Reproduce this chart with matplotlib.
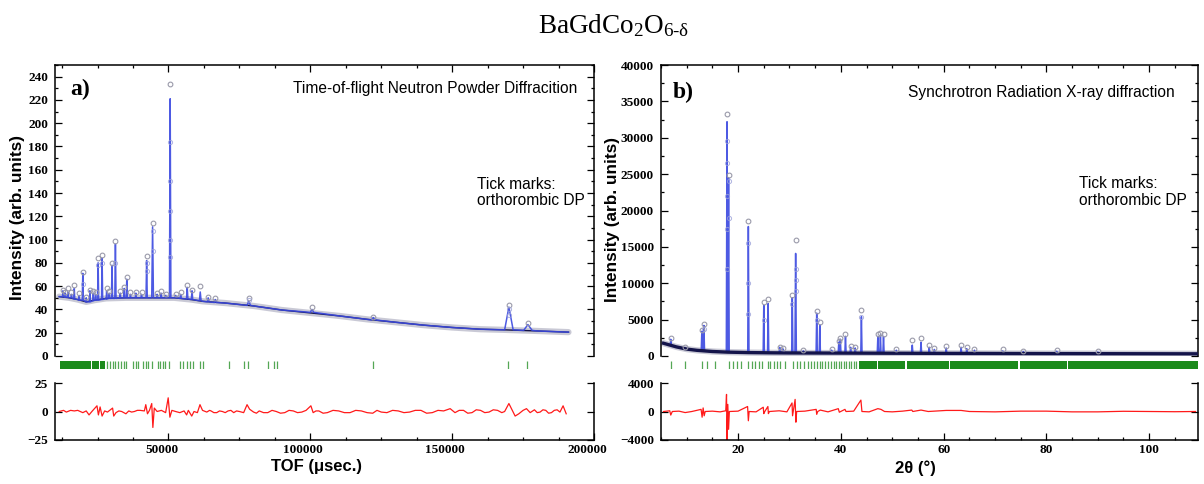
import matplotlib
matplotlib.use("Agg")
import matplotlib.pyplot as plt
import numpy as np
from matplotlib.ticker import MultipleLocator, FixedLocator
from matplotlib.transforms import ScaledTranslation

W, H, DPI = 1204, 484, 100

plt.rcParams['mathtext.fontset'] = 'custom'
plt.rcParams['mathtext.rm'] = 'Liberation Serif'
plt.rcParams['mathtext.it'] = 'Liberation Serif'

# ---------------- Panel a: time-of-flight neutron data ----------------
tof_bg = [11500, 15000, 18000, 21000, 24000, 28000, 35000, 45000, 52000, 58000,
          62000, 70000, 80000, 90000, 100000, 110000, 120000, 130000, 140000,
          150000, 160000, 168000, 180000, 191000]
int_bg = [51, 50, 48.5, 46.5, 48, 49.5, 50, 50, 50, 48.5,
          47, 45.5, 43, 39.5, 37, 34.5, 31.5, 29, 26.5,
          24.5, 23, 22.5, 21.5, 20.5]

tof_peaks = [12800, 13600, 14500, 15800, 16800, 18500, 19800, 21000, 22300, 23500,
             24300, 25200, 26600, 28200, 29100, 30100, 31300, 33000, 34400, 35300,
             36600, 38500, 40500, 42300, 44400, 46000, 47400, 49000, 50600, 52500,
             54300, 56600, 58300, 61200, 64000, 66500, 78300, 100600, 122200, 170000,
             176700]
base_peaks_a = [51, 50.5, 50.5, 50, 49, 48, 48, 46.5, 46.5, 47.5,
                48, 48, 48.5, 49, 49.5, 49.5, 49.5, 50, 50, 50,
                50, 50, 50, 50, 50, 50, 50, 50, 50, 50,
                49.5, 49, 48.5, 47.5, 46.5, 46, 43.5, 37.5, 31, 22.5,
                22]
calc_peaks_a = [56, 54, 55, 53, 58, 52, 71, 50, 56, 54,
                53, 80, 84, 56, 54, 78, 96, 54, 58, 66,
                53, 54, 53, 82, 111, 53, 54, 52, 221, 52,
                53, 59, 56, 55, 50, 48.5, 47, 40, 33, 42,
                27]
obs_peaks_a = [57, 55, 58, 55, 61, 54, 72.5, 51, 57, 56,
               55, 84, 87, 58, 56, 80, 99, 56, 59, 68,
               55, 55, 55, 86, 114, 54, 56, 53, 234, 53,
               55, 61, 57, 60, 51, 50, 50, 42, 33.5, 44,
               28]
hw_peaks_a = [150, 150, 150, 150, 150, 150, 200, 150, 150, 150,
              150, 200, 200, 150, 150, 200, 220, 150, 150, 180,
              150, 200, 200, 220, 300, 200, 200, 200, 250, 200,
              200, 250, 250, 300, 300, 300, 600, 600, 600, 1500,
              1500]

tof_obs_extra = [50600, 50600, 50600, 50600, 50600, 44400, 44400, 42300, 42300,
                 31300, 26600, 25200, 19800, 78300, 170000, 170000]
int_obs_extra = [184, 150, 125, 100, 85, 107, 90, 73, 80,
                 80, 80, 78, 62, 48, 40, 35]

tof_diff = [11500, 13000, 14000, 15500, 16800, 18000, 19800, 21000, 22000, 23000,
            24800, 25300, 25900, 26600, 27500, 28500, 30300, 30700, 31500, 32500,
            33500, 35000, 36000, 37000, 38000, 39000, 40000, 41500, 42000, 42600,
            43300, 44100, 44500, 45000, 46000, 47500, 49000, 49900, 50500, 51200,
            52500, 54000, 55500, 56400, 57000, 58200, 59000, 60200, 61100, 62000,
            63500, 64500, 65000, 66000, 67000, 68000, 69000, 70000, 71000, 72000,
            73000, 74000, 75000, 76500, 77700, 78600, 80000, 81000, 82000, 83500,
            85000, 86500, 88000, 89500, 91000, 92500, 94000, 95500, 97000, 98500,
            100200, 101000, 102000, 103000, 104500, 106000, 108000, 110000, 112000, 114000,
            116000, 118000, 120000, 122000, 123500, 125000, 127000, 129000, 131000, 133000,
            135000, 137000, 139000, 141000, 143000, 145000, 147000, 149300, 151000, 152500,
            154000, 155500, 157000, 158500, 160000, 161500, 163000, 164500, 166000, 167500,
            168500, 170000, 171000, 172200, 173500, 175000, 176200, 177500, 179000, 180000,
            181000, 182000, 183000, 184000, 185000, 186000, 187000, 188000, 189100, 190200]
val_diff = [0, 1, -0.5, 1, 0.5, 1, -1, 0.5, -3, 0,
            5, -3, 4, -4, 0.5, -0.5, 3, -4, -1, 0.5,
            0, -2, 0.5, -0.5, 0, 1, 1, 0.5, 6, -2,
            1, 7, -14, 3, 0, 1, -1, 12, -5, 1,
            0, -1, 0.5, -3, 1, -4, 0, -1, 6, 1,
            -0.5, 1, 0.5, -1, -1, 0.5, 0, -1, 0.5, 1,
            -1, 0.5, 0, -1, 6, 2, -0.5, -1.5, 0.5, -1,
            -1, 1, 0, -1.5, -1, 1, 0.5, -1, -0.5, 1,
            5, -1, 0.5, 0.5, -1.5, -1, 1, 0.5, -1, -1,
            1, 0.5, -1, -1.5, 1, -0.5, -1, 1, 0.5, -1,
            -0.5, 1, 1, -1.5, -1, 1, 0.5, 2.5, -1, 1,
            1, -1.5, -1, 1.5, 1, -1, -0.5, 1.5, 1, -1,
            0, 7, 2, -4, -2, 1, 2.5, -1, 1.5, -1,
            -0.5, 1.5, 1, -1.5, -1, 1, 1.5, -0.5, 5, -2]

tof_tick_bands = [(11800, 22800), (23200, 25500), (25900, 27500)]
tof_ticks = [28300, 29400, 30450, 31150, 32200, 33270, 34330, 35030, 37500, 38560,
             39270, 41030, 42090, 42790, 44200, 46320, 47020, 48080, 48790, 50200,
             54080, 55130, 56540, 57600, 58660, 61130, 62190, 71350, 76640, 78050,
             85100, 87200, 88300, 122100, 169700, 176400]

# ---------------- Panel b: synchrotron X-ray data ----------------
tth_bg = [5.5, 6.5, 8, 10, 12, 15, 18, 22, 26, 30, 40, 50, 60, 80, 100, 109.5]
int_bg_b = [1750, 1550, 1250, 950, 780, 620, 530, 470, 440, 420, 400, 380, 360, 330, 310, 300]

tth_peaks = [6.9, 9.7, 12.95, 13.35, 17.85, 18.15, 22.0, 25.0, 25.85, 28.1,
             28.7, 30.55, 31.2, 32.7, 35.3, 35.9, 38.2, 39.6, 39.9, 40.9,
             41.9, 42.8, 44.0, 47.2, 47.7, 48.3, 50.8, 53.9, 55.6, 57.2,
             58.2, 60.5, 63.4, 64.5, 66.0, 71.5, 75.5, 82.0, 90.0]
base_peaks_b = [1500, 1000, 780, 760, 560, 550, 470, 445, 440, 430,
                430, 420, 420, 415, 410, 410, 405, 400, 400, 400,
                400, 400, 395, 390, 390, 390, 385, 380, 375, 370,
                370, 365, 360, 360, 355, 345, 340, 330, 320]
calc_peaks_b = [2300, 1150, 3400, 4200, 32200, 24500, 17800, 7000, 7200, 1200,
                1000, 8000, 14100, 700, 5900, 4300, 800, 1900, 2300, 2700,
                1200, 1100, 5400, 2700, 2900, 2700, 800, 1500, 1900, 1200,
                900, 1100, 1200, 1000, 800, 700, 600, 650, 550]
obs_peaks_b = [2500, 1200, 3600, 4450, 33200, 24900, 18600, 7450, 7800, 1300,
               1100, 8400, 15900, 800, 6200, 4700, 900, 2100, 2500, 3000,
               1400, 1300, 6300, 3000, 3100, 3000, 900, 2200, 2500, 1500,
               1100, 1400, 1500, 1300, 1000, 900, 700, 800, 650]
hw_peaks_b = [0.1, 0.1, 0.12, 0.12, 0.14, 0.12, 0.12, 0.12, 0.12, 0.12,
              0.12, 0.12, 0.14, 0.12, 0.12, 0.12, 0.12, 0.12, 0.12, 0.12,
              0.12, 0.12, 0.12, 0.12, 0.12, 0.12, 0.12, 0.12, 0.12, 0.12,
              0.12, 0.12, 0.12, 0.12, 0.12, 0.12, 0.12, 0.12, 0.12]

tth_obs_extra = [17.85, 17.85, 17.85, 17.85, 17.85, 18.15, 18.15, 22.0, 22.0, 22.0,
                 25.0, 30.55, 31.2, 31.2, 31.2, 35.3, 44.0, 13.35]
int_obs_extra_b = [29500, 26500, 22000, 17500, 12000, 24000, 19000, 15500, 10000, 5800,
                   4900, 7200, 12000, 10500, 9000, 5000, 5300, 3700]

tth_diff = [5.5, 6.7, 6.9, 7.2, 8.5, 9.7, 11, 12.8, 13.0, 13.2, 13.4, 13.6, 15, 16.5,
            17.6, 17.75, 17.85, 18.0, 18.15, 18.3, 20, 21.85, 22.0, 22.15, 23.5,
            24.9, 25.0, 25.2, 25.8, 25.9, 26.1, 28, 29.5, 30.5, 30.6, 31.1, 31.25,
            31.4, 33, 35.2, 35.3, 35.5, 36, 37.5, 39.5, 39.7, 40.8, 41, 42.5, 43.9,
            44.1, 45.5, 47.2, 47.8, 48.5, 50, 52, 53.8, 54, 55.6, 57, 60.5, 63.4,
            65, 70, 75, 80, 85, 90, 95, 100, 105, 109]
val_diff_b = [0, 100, -500, 0, 50, -150, 0, 300, -800, 500, -600, 0, 50, -50,
              100, 2400, -4000, 1000, -2500, 0, 50, 700, -1300, 0, -50,
              600, -300, 0, 700, -300, 0, 100, -50, 1200, -600, 1700, -1500,
              0, 50, 300, -400, 0, 200, -50, 400, -100, 300, 0, 50, 1600,
              0, -50, 400, 300, 0, -50, 50, 200, 0, 200, 0, 150, 150,
              0, -50, 50, 50, -50, -50, 30, 0, -30, 0]

tth_tick_bands = [(43.5, 47.0), (47.3, 52.5), (52.8, 61.0), (61.3, 74.5),
                  (74.9, 84.0), (84.2, 109.5)]
tth_ticks = [7.0, 9.6, 12.96, 13.9, 15.6, 18.2, 19.0, 19.7, 20.5, 22.0, 22.7, 23.3,
             24.0, 24.6, 25.8, 26.3, 27.0, 27.6, 28.2, 29.1, 30.6, 31.4, 32.1, 32.9,
             33.6, 34.2, 34.8, 35.3, 35.9, 36.4, 37.0, 37.5, 38.0, 38.6, 39.1, 39.6,
             40.1, 40.6, 41.0, 41.5, 42.0, 42.5, 43.0]

x_major_a = [50000, 100000, 150000, 200000]
x_major_b = [20, 40, 60, 80, 100]

# ---------------- styling ----------------
C_CALC = '#3a48e0'
C_OBS = '#9a9aaa'
C_BG = '#14144a'
C_DIFF = '#ff1a1a'
C_TICK = '#1b8a1b'
TICK_FONT = dict(family='Liberation Serif', weight='bold', size=9.5)
LABEL_FONT = dict(family='Liberation Sans', weight='bold', size=12.4)
NOTE_FONT = dict(family='Liberation Sans', size=11.2)


def profile(bx, by, px, pb, pt, hw):
    """Calculated pattern: background polyline with sharp reflections."""
    xs, ys = [], []
    for x, y in zip(bx, by):
        if not any(abs(x - c) <= h for c, h in zip(px, hw)):
            xs.append(x)
            ys.append(y)
    for c, b, t, h in zip(px, pb, pt, hw):
        xs += [c - h, c, c + h]
        ys += [b, t, b]
    order = np.argsort(xs, kind='stable')
    return np.asarray(xs)[order], np.asarray(ys)[order]


def px_axes(l, t, r, b):
    return [l / W, 1 - b / H, (r - l) / W, (b - t) / H]


def fig_xy(x, y):
    return x / W, 1 - y / H


fig = plt.figure(figsize=(W / DPI, H / DPI), dpi=DPI)

panels = [
    dict(left=55, right=594, xlim=(10000, 200000), ylim=(0, 250),
         ymaj=20, ymin=10, yticklim=240, xmaj=x_major_a, xmin=12500,
         rlim=(-25, 25), rticks=[-25, 0, 25],
         bg=(tof_bg, int_bg),
         pk=(tof_peaks, base_peaks_a, calc_peaks_a, obs_peaks_a, hw_peaks_a),
         extra=(tof_obs_extra, int_obs_extra),
         diff=(tof_diff, val_diff),
         ticks=tof_ticks, bands=tof_tick_bands, bg_on_top=False,
         label_shift=-7),
    dict(left=661, right=1198, xlim=(5, 109.5), ylim=(0, 40000),
         ymaj=5000, ymin=2500, yticklim=40000, xmaj=x_major_b, xmin=5,
         rlim=(-4000, 4000), rticks=[-4000, 0, 4000],
         bg=(tth_bg, int_bg_b),
         pk=(tth_peaks, base_peaks_b, calc_peaks_b, obs_peaks_b, hw_peaks_b),
         extra=(tth_obs_extra, int_obs_extra_b),
         diff=(tth_diff, val_diff_b),
         ticks=tth_ticks, bands=tth_tick_bands, bg_on_top=True,
         label_shift=0),
]

for p in panels:
    ax = fig.add_axes(px_axes(p['left'], 65, p['right'], 356))
    axt = fig.add_axes(px_axes(p['left'], 361, p['right'], 369))
    axr = fig.add_axes(px_axes(p['left'], 383, p['right'], 440))

    bx, by = p['bg']
    cx, cy = profile(bx, by, *p['pk'][:3], p['pk'][4])

    # observed data: halo along the baseline plus open circles
    ax.plot(bx, by, color='#b8b8c8', lw=4.5, alpha=0.75,
            solid_capstyle='round', zorder=1)
    ax.plot(p['pk'][0], p['pk'][3], 'o', mfc='none', mec=C_OBS, ms=3.4,
            mew=0.8, zorder=5)
    ax.plot(p['extra'][0], p['extra'][1], 'o', mfc='none', mec='#9aa0d8',
            ms=3.0, mew=0.7, alpha=0.8, zorder=5)
    # calculated pattern and background
    ax.plot(cx, cy, color=C_CALC, lw=1.1, alpha=0.9, zorder=3)
    if p['bg_on_top']:
        ax.plot(bx, by, color=C_BG, lw=2.4, zorder=4)
    else:
        ax.plot(bx, by, color=C_BG, lw=1.0, zorder=2)

    ax.set_xlim(*p['xlim'])
    ax.set_ylim(*p['ylim'])
    ax.spines['bottom'].set_visible(False)
    ax.yaxis.set_major_locator(FixedLocator(np.arange(0, p['yticklim'] + 1, p['ymaj'])))
    ax.yaxis.set_minor_locator(MultipleLocator(p['ymin']))
    ax.xaxis.set_major_locator(FixedLocator(p['xmaj']))
    ax.xaxis.set_minor_locator(MultipleLocator(p['xmin']))
    ax.tick_params(which='both', direction='in', top=True, right=True,
                   bottom=False, labelbottom=False, width=0.9)
    ax.tick_params(which='major', length=5, pad=5)
    ax.tick_params(which='minor', length=2.5)

    # reflection tick marks
    axt.vlines(p['ticks'], 0, 1, color=C_TICK, lw=0.9, alpha=0.75)
    for a, b in p['bands']:
        axt.axvspan(a, b, color=C_TICK, lw=0)
    axt.set_xlim(*p['xlim'])
    axt.set_ylim(0, 1)
    axt.axis('off')

    # difference curve
    axr.plot(p['diff'][0], p['diff'][1], color=C_DIFF, lw=0.9)
    axr.set_xlim(*p['xlim'])
    axr.set_ylim(*p['rlim'])
    axr.set_yticks(p['rticks'])
    axr.spines['top'].set_visible(False)
    axr.xaxis.set_major_locator(FixedLocator(p['xmaj']))
    axr.xaxis.set_minor_locator(MultipleLocator(p['xmin']))
    axr.tick_params(which='both', direction='in', right=True, top=False, width=0.9)
    axr.tick_params(which='major', length=5, pad=5)
    axr.tick_params(axis='x', which='major', pad=3)
    axr.tick_params(which='minor', length=2.5)

    for a in (ax, axr):
        for s in a.spines.values():
            s.set_linewidth(1.1)
        for lbl in a.get_xticklabels() + a.get_yticklabels():
            lbl.set(**TICK_FONT)

    if p['label_shift']:
        shift = ScaledTranslation(p['label_shift'] / DPI, 0, fig.dpi_scale_trans)
        for lbl in axr.get_xticklabels():
            lbl.set_transform(lbl.get_transform() + shift)

# labels and annotations
fig.text(*fig_xy(18, 218), 'Intensity (arb. units)', rotation=90,
         ha='center', va='center', **LABEL_FONT)
fig.text(*fig_xy(613, 220), 'Intensity (arb. units)', rotation=90,
         ha='center', va='center', **LABEL_FONT)
fig.text(*fig_xy(317, 467), 'TOF (μsec.)', ha='center', va='center',
         family='Liberation Sans', weight='bold', size=12)
fig.text(*fig_xy(915, 468), '2θ (°)', ha='center', va='center',
         family='Liberation Sans', weight='bold', size=12)

fig.text(*fig_xy(577, 88), 'Time-of-flight Neutron Powder Diffracition',
         ha='right', va='center', **NOTE_FONT)
fig.text(*fig_xy(1175, 92), 'Synchrotron Radiation X-ray diffraction',
         ha='right', va='center', **NOTE_FONT)
fig.text(*fig_xy(477, 192.5), 'Tick marks:\northorombic DP',
         ha='left', va='center', linespacing=1.1, **NOTE_FONT)
fig.text(*fig_xy(1079, 192), 'Tick marks:\northorombic DP',
         ha='left', va='center', linespacing=1.1, **NOTE_FONT)

fig.text(*fig_xy(70, 89), 'a)', ha='left', va='center',
         family='Liberation Serif', weight='bold', size=17)
fig.text(*fig_xy(673, 92), 'b)', ha='left', va='center',
         family='Liberation Serif', weight='bold', size=17)

fig.text(*fig_xy(614, 33), 'BaGdCo$_2$O$_{6‐δ}$', ha='center', va='baseline',
         family='Liberation Serif', size=19.5)

fig.savefig('out.png', dpi=DPI)
